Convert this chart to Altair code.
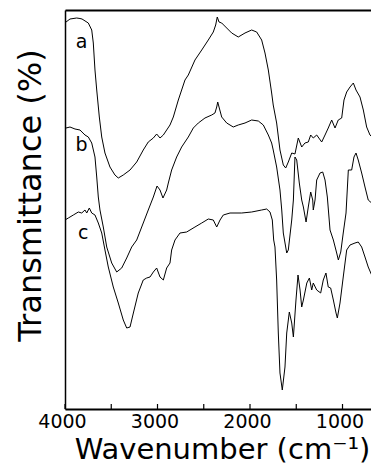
import altair as alt
import pandas as pd

# Curve a (top spectrum)
wn_a = [3989, 3946, 3874, 3838, 3816, 3748, 3711, 3694, 3676, 3657, 3629, 3603, 3568, 3514, 3460, 3424,
        3370, 3297, 3225, 3154, 3100, 3045, 3009, 2973, 2937, 2901, 2865, 2829, 2775, 2703, 2667, 2595,
        2522, 2451, 2397, 2371, 2354, 2335, 2306, 2252, 2198, 2127, 2054, 1982, 1928, 1874, 1838, 1802,
        1766, 1749, 1712, 1676, 1640, 1614, 1586, 1549, 1514, 1478, 1441, 1406, 1370, 1344, 1316, 1279,
        1225, 1189, 1154, 1117, 1081, 1046, 1009, 984, 955, 919, 883, 854, 811, 775, 739, 703, 649, 613]
t_a = [387, 390, 391, 390.5, 390, 386, 379, 366, 339, 319, 292, 272, 256, 242, 234, 231,
       234, 239, 247, 259, 267, 271, 275, 271, 274, 279, 284, 292, 309, 329, 334, 349,
       359, 369, 377, 384, 392, 387, 386, 381, 376, 372, 376, 379, 377, 369, 356, 339,
       316, 304, 286, 259, 244, 241, 247, 256, 255, 271, 262, 266, 267, 274, 271, 274,
       267, 274, 281, 289, 281, 289, 291, 309, 317, 322, 326, 319, 312, 299, 282, 274, 269, 266]

# Curve b (middle spectrum)
wn_b = [3989, 3946, 3892, 3838, 3784, 3748, 3711, 3676, 3657, 3640, 3622, 3586, 3549, 3495, 3441, 3387,
        3333, 3279, 3225, 3154, 3100, 3045, 3005, 2973, 2941, 2901, 2883, 2847, 2793, 2739, 2667, 2613,
        2559, 2487, 2414, 2379, 2360, 2349, 2332, 2306, 2252, 2181, 2127, 2054, 1982, 1910, 1856, 1802,
        1766, 1749, 1712, 1676, 1657, 1640, 1603, 1586, 1549, 1531, 1514, 1495, 1467, 1441, 1423, 1394,
        1370, 1344, 1322, 1316, 1297, 1279, 1243, 1214, 1189, 1164, 1135, 1099, 1063, 1045, 1019, 992,
        962, 937, 901, 876, 854, 830, 793, 757, 722, 685, 638, 606]
t_b = [281, 282, 280, 279, 274, 272, 266, 252, 232, 212, 199, 182, 162, 146, 137, 141,
       151, 162, 169, 186, 199, 212, 223, 219, 211, 219, 226, 239, 252, 262, 272, 281,
       286, 291, 294, 296, 302, 307, 301, 292, 286, 282, 284, 286, 289, 288, 284, 274,
       266, 259, 242, 219, 199, 176, 156, 159, 189, 209, 252, 249, 226, 209, 202, 187,
       202, 217, 209, 199, 209, 229, 236, 237, 229, 212, 179, 169, 156, 149, 157, 176,
       196, 239, 239, 252, 256, 249, 236, 222, 209, 206, 206, 202]

# Curve c (bottom spectrum)
wn_c = [4000, 3964, 3910, 3856, 3819, 3784, 3765, 3737, 3711, 3676, 3640, 3603, 3568, 3532, 3478, 3424,
        3370, 3333, 3297, 3261, 3208, 3154, 3117, 3081, 3045, 3009, 2973, 2937, 2901, 2865, 2847, 2811,
        2757, 2685, 2595, 2522, 2451, 2397, 2360, 2324, 2289, 2216, 2090, 1982, 1874, 1820, 1784, 1759,
        1744, 1730, 1712, 1694, 1676, 1651, 1622, 1603, 1575, 1549, 1531, 1503, 1481, 1459, 1441, 1423,
        1386, 1358, 1333, 1316, 1279, 1236, 1208, 1179, 1154, 1128, 1099, 1070, 1056, 1027, 992, 955,
        919, 865, 830, 793, 757, 722, 685, 649, 606]
t_c = [189, 191, 194, 197, 196, 199, 196, 201, 196, 194, 186, 176, 159, 142, 122, 106,
       89, 81, 82, 96, 116, 129, 131, 132, 137, 141, 132, 129, 141, 146, 159, 169,
       176, 177, 182, 186, 190, 189, 182, 189, 194, 196, 196, 197, 199, 200, 197, 189,
       169, 162, 129, 76, 36, 19, 42, 76, 97, 86, 72, 109, 134, 119, 102, 109,
       126, 131, 119, 126, 119, 116, 129, 136, 122, 121, 109, 96, 91, 106, 132, 159,
       164, 166, 167, 162, 152, 142, 134, 129, 127]

# Curve labels
label_text = ["a", "b", "c"]
label_wn = [3820, 3820, 3802]
label_t = [367, 264, 176]

# Axis ticks
tick_values = [4000, 3500, 3000, 2500, 2000, 1500, 1000]
tick_labels = [4000, 3000, 2000, 1000]

rows = []
for name, wn, t in [("a", wn_a, t_a), ("b", wn_b, t_b), ("c", wn_c, t_c)]:
    for w, v in zip(wn, t):
        rows.append({"series": name, "wn": w, "T": v})
df = pd.DataFrame(rows)
df_lab = pd.DataFrame({"label": label_text, "wn": label_wn, "T": label_t})
df_ticks = pd.DataFrame({"v": tick_values})

W, H = 306, 399
x_scale = alt.Scale(domain=[692, 4000], reverse=True, nice=False, zero=False)
y_scale = alt.Scale(domain=[0, 399], nice=False, zero=False)

x_axis = alt.Axis(
    values=tick_labels, format="d", ticks=False, grid=False,
    domainColor="black", domainWidth=2,
    labelFont="DejaVu Sans", labelFontSize=19, labelColor="black", labelPadding=3,
    labelOffset=-3, labelFlush=False, labelOverlap=False,
    title="Wavenumber (cm⁻¹)", titleFont="DejaVu Sans", titleFontSize=29,
    titleFontWeight="normal", titleColor="black", titleBaseline="alphabetic",
    titleX=157, titleY=49, titleAlign="center",
)
y_axis = alt.Axis(
    labels=False, ticks=False, grid=False,
    domainColor="black", domainWidth=1.5,
    title="Transmittance (%)", titleFont="DejaVu Sans", titleFontSize=32,
    titleFontWeight="normal", titleColor="black", titleAngle=270,
    titleBaseline="alphabetic", titleAlign="center", titleX=-25, titleY=185,
)
top_axis = alt.Axis(
    orient="top", labels=False, ticks=False, grid=False, title=None,
    domainColor="black", domainWidth=2,
)

lines = alt.Chart(df).mark_line(color="black", strokeWidth=1.0, clip=True).encode(
    x=alt.X("wn:Q", scale=x_scale, axis=x_axis),
    y=alt.Y("T:Q", scale=y_scale, axis=y_axis),
    detail="series:N",
    order=alt.Order("wn:Q", sort="descending"),
)

# inward tick marks along the bottom axis; this layer also carries the top frame axis
ticks = alt.Chart(df_ticks).mark_rule(color="black", strokeWidth=1.2).encode(
    x=alt.X("v:Q", scale=x_scale, axis=top_axis),
    y=alt.value(H - 5),
    y2=alt.value(H),
)

labels = alt.Chart(df_lab).mark_text(
    font="DejaVu Sans", fontSize=19, color="black", align="center", baseline="middle"
).encode(
    x=alt.X("wn:Q", scale=x_scale, axis=None),
    y=alt.Y("T:Q", scale=y_scale),
    text="label:N",
)

chart = alt.layer(lines, ticks, labels).resolve_axis(x="independent").properties(
    width=W, height=H,
    padding={"left": 57, "top": 2, "right": 0, "bottom": 54},
    autosize=alt.AutoSizeParams(type="none"),
).configure_view(stroke=None).configure(background="white")

chart.save("out.html", embed_options={"renderer": "svg", "actions": False})
